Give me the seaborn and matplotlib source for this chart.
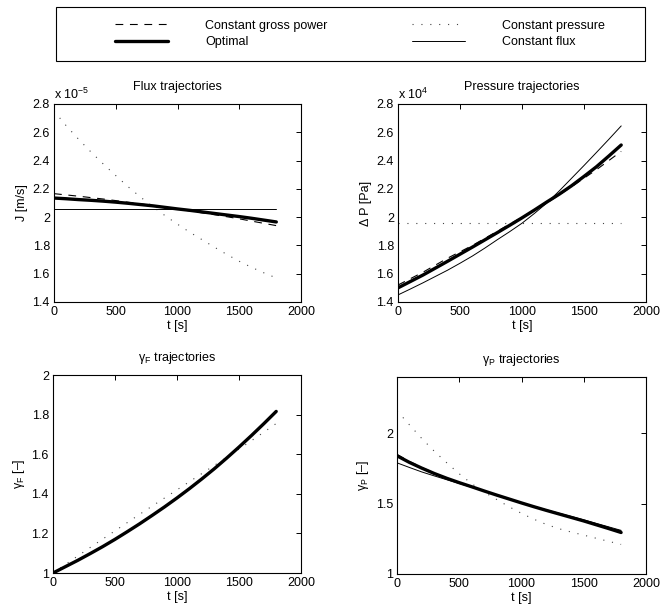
import numpy as np
import pandas as pd
import seaborn as sns
import matplotlib
matplotlib.use("Agg")
import matplotlib.pyplot as plt
from matplotlib.lines import Line2D
from matplotlib.patches import Rectangle
from matplotlib.ticker import FuncFormatter, MultipleLocator

# ---------------- data ----------------
t = [0, 100, 200, 300, 400, 500, 600, 700, 800, 900,
     1000, 1100, 1200, 1300, 1400, 1500, 1600, 1700, 1800]  # time [s]

series_names = ["Constant gross power", "Optimal", "Constant pressure", "Constant flux"]

# Flux J [m/s] in units of 1e-5
flux_gross = [2.166, 2.157, 2.148, 2.138, 2.128, 2.117, 2.105, 2.094, 2.082, 2.070,
              2.057, 2.044, 2.030, 2.017, 2.003, 1.988, 1.972, 1.956, 1.940]
flux_opt = [2.135, 2.130, 2.124, 2.119, 2.113, 2.106, 2.098, 2.089, 2.080, 2.069,
            2.058, 2.048, 2.037, 2.026, 2.015, 2.004, 1.992, 1.979, 1.966]
flux_press = [2.750, 2.645, 2.550, 2.460, 2.375, 2.294, 2.215, 2.142, 2.075, 2.010,
              1.950, 1.893, 1.840, 1.787, 1.736, 1.688, 1.645, 1.606, 1.570]
flux_flux = [2.058] * 19

# Pressure dP [Pa] in units of 1e4
pres_gross = [1.520, 1.565, 1.610, 1.660, 1.710, 1.755, 1.800, 1.850, 1.900, 1.950,
              2.000, 2.050, 2.100, 2.157, 2.215, 2.275, 2.335, 2.400, 2.465]
pres_opt = [1.500, 1.545, 1.590, 1.639, 1.688, 1.738, 1.788, 1.839, 1.890, 1.942,
            1.995, 2.050, 2.107, 2.162, 2.222, 2.288, 2.356, 2.432, 2.510]
pres_press = [1.960] * 19
pres_flux = [1.450, 1.492, 1.535, 1.580, 1.625, 1.674, 1.725, 1.781, 1.840, 1.897,
             1.957, 2.026, 2.100, 2.185, 2.275, 2.365, 2.457, 2.550, 2.645]

# gamma_F [-]
gf_gross = [1.000, 1.033, 1.065, 1.099, 1.134, 1.171, 1.210, 1.250, 1.292, 1.335,
            1.380, 1.427, 1.476, 1.527, 1.581, 1.637, 1.695, 1.755, 1.818]
gf_opt = [1.000, 1.032, 1.064, 1.098, 1.133, 1.170, 1.209, 1.249, 1.291, 1.334,
          1.379, 1.426, 1.475, 1.526, 1.580, 1.636, 1.694, 1.754, 1.816]
gf_press = [1.000, 1.043, 1.086, 1.129, 1.171, 1.213, 1.255, 1.297, 1.338, 1.379,
            1.420, 1.461, 1.502, 1.543, 1.584, 1.626, 1.668, 1.711, 1.755]
gf_flux = [1.000, 1.031, 1.063, 1.097, 1.132, 1.169, 1.208, 1.248, 1.290, 1.333,
           1.378, 1.425, 1.474, 1.525, 1.579, 1.635, 1.693, 1.753, 1.814]

# gamma_P [-]
gp_gross = [1.850, 1.800, 1.757, 1.717, 1.682, 1.650, 1.620, 1.590, 1.561, 1.533,
            1.505, 1.479, 1.453, 1.429, 1.405, 1.381, 1.356, 1.331, 1.305]
gp_opt = [1.840, 1.793, 1.752, 1.714, 1.680, 1.649, 1.620, 1.590, 1.561, 1.533,
          1.505, 1.478, 1.452, 1.427, 1.402, 1.377, 1.350, 1.323, 1.295]
gp_press = [2.160, 2.060, 1.962, 1.872, 1.790, 1.712, 1.642, 1.582, 1.530, 1.478,
            1.431, 1.389, 1.352, 1.322, 1.298, 1.276, 1.254, 1.232, 1.210]
gp_flux = [1.790, 1.757, 1.725, 1.697, 1.670, 1.643, 1.616, 1.588, 1.561, 1.534,
           1.507, 1.481, 1.456, 1.432, 1.409, 1.385, 1.360, 1.335, 1.310]

x_ticks = [0, 500, 1000, 1500, 2000]

# ---------------- style ----------------
sns.set_theme(style="white")
plt.rcParams["font.family"] = ["Liberation Sans", "DejaVu Sans"]
plt.rcParams.update({
    "mathtext.fontset": "custom",
    "mathtext.rm": "Liberation Sans",
    "mathtext.it": "Liberation Sans:italic",
    "axes.edgecolor": "black",
    "axes.linewidth": 0.8,
    "xtick.direction": "in",
    "ytick.direction": "in",
    "xtick.top": True,
    "ytick.right": True,
    "xtick.major.size": 3.5,
    "ytick.major.size": 3.5,
    "xtick.major.width": 0.7,
    "ytick.major.width": 0.7,
    "xtick.color": "black",
    "ytick.color": "black",
    "text.color": "black",
    "axes.labelcolor": "black",
})

FS = 9
styles = {
    "Constant gross power": dict(color="black", lw=0.8, linestyle=(0, (7, 6))),
    "Optimal": dict(color="black", lw=2.4, linestyle="-"),
    "Constant pressure": dict(color="#444444", lw=0.8, linestyle=(0, (1, 7))),
    "Constant flux": dict(color="black", lw=0.7, linestyle="-"),
}

W, H = 664, 610
fig = plt.figure(figsize=(W / 100, H / 100), dpi=100)


def px_axes(x0, y0, x1, y1):
    return fig.add_axes([x0 / W, 1 - y1 / H, (x1 - x0) / W, (y1 - y0) / H])


fmt = FuncFormatter(lambda v, p: "%g" % round(v, 6))


def panel(ax, data, ylim, ystep, title, ylabel, offset=None):
    df = pd.DataFrame({"t": t * 4,
                       "v": sum([list(d) for d in data], []),
                       "s": sum([[n] * len(t) for n in series_names], [])})
    order = ["Constant pressure", "Constant flux", "Constant gross power", "Optimal"]
    for name in order:
        sub = df[df["s"] == name]
        sns.lineplot(data=sub, x="t", y="v", ax=ax, legend=False, **styles[name])
    ax.set_xlim(0, 2000)
    ax.set_ylim(*ylim)
    ax.set_xticks(x_ticks)
    ax.yaxis.set_major_locator(MultipleLocator(ystep))
    ax.xaxis.set_major_formatter(fmt)
    ax.yaxis.set_major_formatter(fmt)
    ax.tick_params(labelsize=FS, pad=3)
    ax.set_title(title, fontsize=FS, pad=10)
    ax.set_xlabel("t [s]", fontsize=FS, labelpad=1)
    ax.set_ylabel(ylabel, fontsize=FS, labelpad=3)
    for sp in ax.spines.values():
        sp.set_visible(True)
        sp.set_color("black")
    if offset:
        ax.text(0.0, 1.012, offset, transform=ax.transAxes, ha="left", va="bottom",
                fontsize=FS)


ax1 = px_axes(54, 104, 301, 302)
panel(ax1, [flux_gross, flux_opt, flux_press, flux_flux], (1.4, 2.8), 0.2,
      "Flux trajectories", "J [m/s]", r"x 10$^{-5}$")

ax2 = px_axes(398, 104, 646, 302)
panel(ax2, [pres_gross, pres_opt, pres_press, pres_flux], (1.4, 2.8), 0.2,
      "Pressure trajectories", "Δ P [Pa]", r"x 10$^{4}$")

ax3 = px_axes(53, 375, 301, 573)
panel(ax3, [gf_gross, gf_opt, gf_press, gf_flux], (1.0, 2.0), 0.2,
      r"γ$_\mathrm{F}$ trajectories", r"γ$_\mathrm{F}$ [–]")

ax4 = px_axes(397, 377, 646, 574)
panel(ax4, [gp_gross, gp_opt, gp_press, gp_flux], (1.0, 2.4), 0.5,
      r"γ$_\mathrm{P}$ trajectories", r"γ$_\mathrm{P}$ [–]")

# ---------------- legend ----------------
fig.patches.append(Rectangle((56 / W, 1 - 61 / H), (645 - 56) / W, 54 / H,
                             transform=fig.transFigure, fill=False,
                             edgecolor="black", lw=0.8))
handles = [Line2D([], [], **styles[n]) for n in series_names]
fig.legend(handles, series_names, ncol=2, loc="center left",
           bbox_to_anchor=(115 / W, 1 - 34 / H), frameon=False,
           fontsize=FS, borderpad=0, handlelength=4.24, handletextpad=2.96,
           columnspacing=6.8, labelspacing=0.35, borderaxespad=0)

fig.savefig("out.png", dpi=100, facecolor="white")
